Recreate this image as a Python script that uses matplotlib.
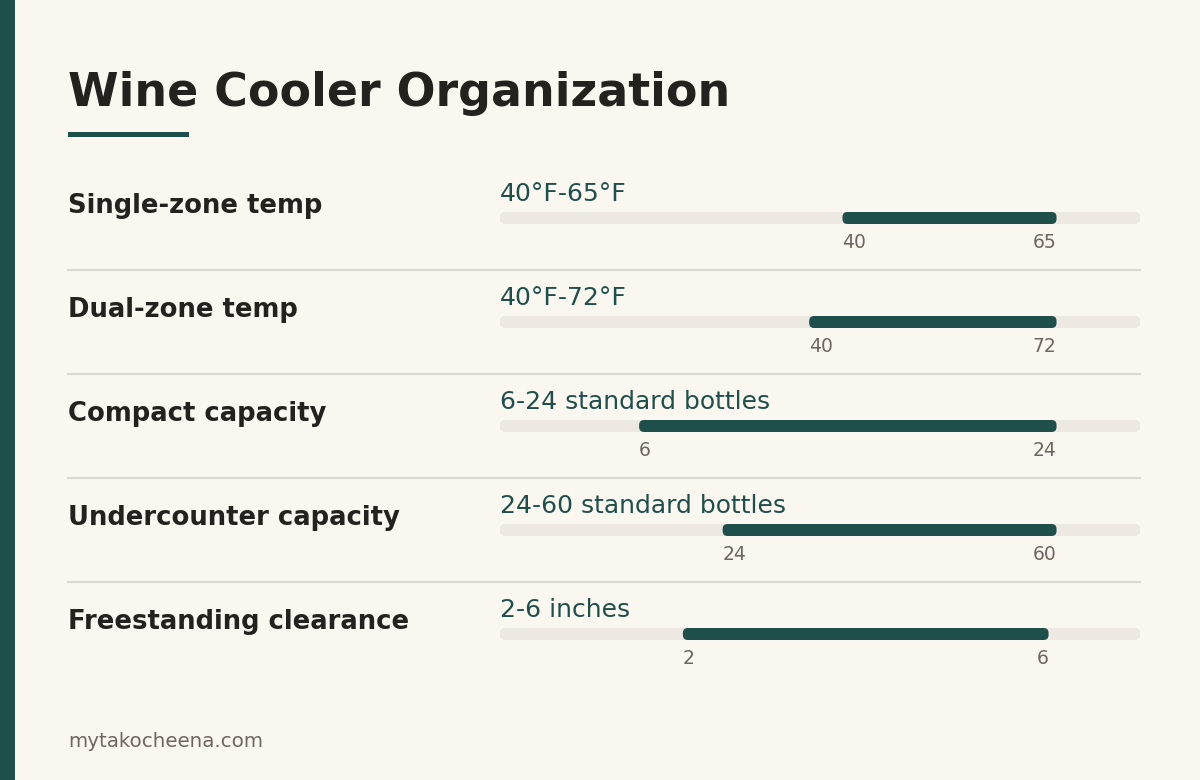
import matplotlib.pyplot as plt
from matplotlib.patches import FancyBboxPatch, Rectangle
from matplotlib.lines import Line2D

# data
labels = ['Single-zone temp', 'Dual-zone temp', 'Compact capacity',
          'Undercounter capacity', 'Freestanding clearance']
range_text = ['40°F-65°F', '40°F-72°F', '6-24 standard bottles',
              '24-60 standard bottles', '2-6 inches']
lows = [40, 40, 6, 24, 2]
highs = [65, 72, 24, 60, 6]

title = 'Wine Cooler Organization'
source = 'mytakocheena.com'

BG = '#FAF7F0'
GREEN = '#1F4F4B'
DARK = '#24211E'
GREY = '#6E665E'
TRACK = '#EDE8E1'
RULE = '#DDD8CF'

W, H = 1200, 780
fig = plt.figure(figsize=(W / 100, H / 100), dpi=100)
fig.patch.set_facecolor(BG)

def fx(px):
    return px / W

def fy(py):
    return 1 - py / H

# left stripe
fig.patches.append(Rectangle((0, 0), fx(15), 1, transform=fig.transFigure,
                             facecolor=GREEN, edgecolor='none'))

fig.text(fx(68), fy(106), title, fontsize=33, fontweight='bold', color=DARK,
         va='baseline', ha='left')
fig.patches.append(Rectangle((fx(68), fy(137)), fx(121), 5 / H,
                             transform=fig.transFigure, facecolor=GREEN,
                             edgecolor='none'))

track_x0, track_x1 = 500, 1140
row_h = 104
bar_h = 12
radius = 5

for i, (lab, rt, lo, hi) in enumerate(zip(labels, range_text, lows, highs)):
    cy = 218 + row_h * i
    # each row has its own scale, with some room after the high end
    smax = max(hi * 1.15, hi + 1)

    ax = fig.add_axes([fx(track_x0), fy(cy + row_h / 2),
                       fx(track_x1 - track_x0), row_h / H])
    ax.set_xlim(0, smax)
    ax.set_ylim(row_h / 2, -row_h / 2)
    ax.axis('off')

    r_x = radius * smax / (track_x1 - track_x0)
    asp = (track_x1 - track_x0) / smax
    ax.add_patch(FancyBboxPatch((0, -bar_h / 2), smax, bar_h,
                                boxstyle='round,pad=0,rounding_size=%f' % r_x,
                                mutation_aspect=asp, facecolor=TRACK,
                                edgecolor='none'))
    ax.add_patch(FancyBboxPatch((lo, -bar_h / 2), hi - lo, bar_h,
                                boxstyle='round,pad=0,rounding_size=%f' % r_x,
                                mutation_aspect=asp, facecolor=GREEN,
                                edgecolor='none'))

    ax.text(0, -17, rt, fontsize=18, color=GREEN, ha='left', va='baseline')
    ax.text(lo, 30, str(lo), fontsize=13.5, color=GREY, ha='left', va='baseline')
    ax.text(hi, 30, str(hi), fontsize=13.5, color=GREY, ha='right', va='baseline')

    fig.text(fx(68), fy(cy - 5), lab, fontsize=18.6, fontweight='bold',
             color=DARK, ha='left', va='baseline')

    if i < len(labels) - 1:
        ly = fy(cy + row_h / 2)
        fig.lines.append(Line2D([fx(68), fx(1140)], [ly, ly],
                                transform=fig.transFigure, color=RULE, lw=1.5))

fig.text(fx(68), fy(747), source, fontsize=14.3, color=GREY, ha='left',
         va='baseline')

fig.savefig('out.png', dpi=100, facecolor=BG)
